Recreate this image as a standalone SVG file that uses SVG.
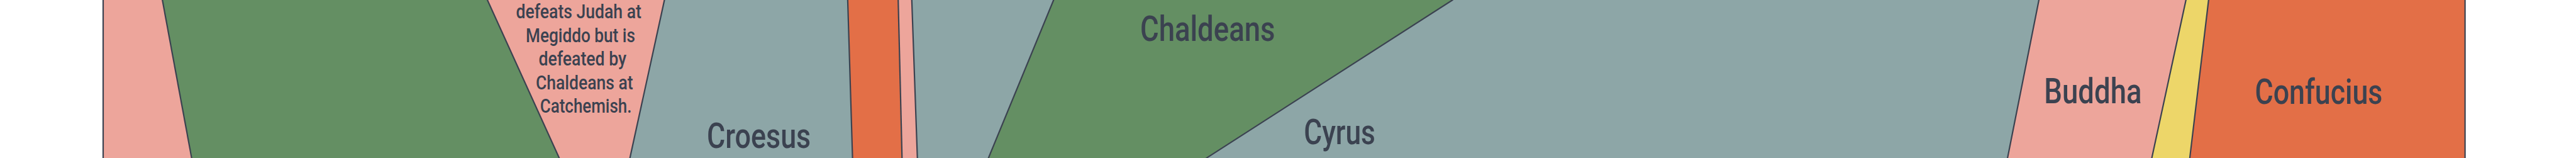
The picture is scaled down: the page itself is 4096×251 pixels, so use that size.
<svg xmlns="http://www.w3.org/2000/svg" width="4096" height="251" viewBox="0 0 4096 251">
<style>
.pink{fill:#eda59b}
.green{fill:#648f63}
.gray{fill:#8da6a7}
.orange{fill:#e36f47}
.yellow{fill:#edd669}
.edge{stroke:#3b4250;stroke-width:2.2;stroke-linecap:square;fill:none}
.big{font-family:Roboto,"Liberation Sans",sans-serif;font-size:55px;font-weight:500;fill:#3b4250;text-anchor:middle}
.small{font-family:Roboto,"Liberation Sans",sans-serif;font-size:31.6px;font-weight:500;fill:#3b4250;text-anchor:middle}
</style>
<rect x="0" y="0" width="4096" height="251" fill="#ffffff"/>
<g id="region-a"><polygon class="pink" points="164,0 258.2,0 304.7,251 164,251"/></g>
<g id="region-b"><polygon class="green" points="258.2,0 775,0 889.2,251 304.7,251"/></g>
<g id="region-c">
<polygon class="pink" points="775,0 1056.5,0 1001.6,251 889.2,251"/>
<text class="small" x="920.2" y="28.6" textLength="199.2" lengthAdjust="spacingAndGlyphs">defeats Judah at</text>
<text class="small" x="923" y="66.5" textLength="174" lengthAdjust="spacingAndGlyphs">Megiddo but is</text>
<text class="small" x="926.3" y="104.2" textLength="139.6" lengthAdjust="spacingAndGlyphs">defeated by</text>
<text class="small" x="929.3" y="141.8" textLength="154.6" lengthAdjust="spacingAndGlyphs">Chaldeans at</text>
<text class="small" x="931.6" y="178.9" textLength="145.7" lengthAdjust="spacingAndGlyphs">Catchemish.</text>
</g>
<g id="region-d">
<polygon class="gray" points="1056.5,0 1347.9,0 1355.6,251 1001.6,251"/>
<text class="big" x="1206.6" y="234.9" textLength="165.1" lengthAdjust="spacingAndGlyphs">Croesus</text>
</g>
<g id="region-e"><polygon class="orange" points="1347.9,0 1428.2,0 1434.3,251 1355.6,251"/></g>
<g id="region-f"><polygon class="pink" points="1428.2,0 1449.8,0 1458.7,251 1434.3,251"/></g>
<g id="region-g"><polygon class="gray" points="1449.8,0 1675.3,0 1571.7,251 1458.7,251"/></g>
<g id="region-h">
<polygon class="green" points="1675.3,0 2309.6,0 1918.5,251 1571.7,251"/>
<text class="big" x="1920.2" y="65" textLength="214.4" lengthAdjust="spacingAndGlyphs">Chaldeans</text>
</g>
<g id="region-i">
<polygon class="gray" points="2309.6,0 3242,0 3192.1,251 1918.5,251"/>
<text class="big" x="2130.1" y="229.4" textLength="113.6" lengthAdjust="spacingAndGlyphs">Cyrus</text>
</g>
<g id="region-j">
<polygon class="pink" points="3242,0 3475.8,0 3421.5,251 3192.1,251"/>
<text class="big" x="3327.9" y="164" textLength="155.1" lengthAdjust="spacingAndGlyphs">Buddha</text>
</g>
<g id="region-k"><polygon class="yellow" points="3475.8,0 3511.8,0 3481.9,251 3421.5,251"/></g>
<g id="region-l">
<polygon class="orange" points="3511.8,0 3919.6,0 3919.6,251 3481.9,251"/>
<text class="big" x="3686.9" y="164.5" textLength="202.8" lengthAdjust="spacingAndGlyphs">Confucius</text>
</g>
<g id="connectors">
<line class="edge" x1="164" y1="0" x2="164" y2="251"/>
<line class="edge" x1="258.2" y1="0" x2="304.7" y2="251"/>
<line class="edge" x1="775" y1="0" x2="889.2" y2="251"/>
<line class="edge" x1="1056.5" y1="0" x2="1001.6" y2="251"/>
<line class="edge" x1="1347.9" y1="0" x2="1355.6" y2="251"/>
<line class="edge" x1="1428.2" y1="0" x2="1434.3" y2="251"/>
<line class="edge" x1="1449.8" y1="0" x2="1458.7" y2="251"/>
<line class="edge" x1="1675.3" y1="0" x2="1571.7" y2="251"/>
<line class="edge" x1="2309.6" y1="0" x2="1918.5" y2="251"/>
<line class="edge" x1="3242" y1="0" x2="3192.1" y2="251"/>
<line class="edge" x1="3475.8" y1="0" x2="3421.5" y2="251"/>
<line class="edge" x1="3511.8" y1="0" x2="3481.9" y2="251"/>
<line class="edge" x1="3919.6" y1="0" x2="3919.6" y2="251"/>
</g>
</svg>
